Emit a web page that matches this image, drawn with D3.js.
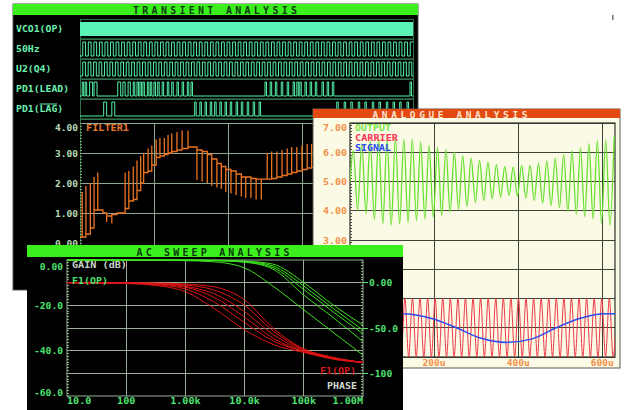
<!DOCTYPE html>
<html>
<head>
<meta charset="utf-8">
<script src="https://cdn.jsdelivr.net/npm/d3@7"></script>
<style>
  html, body { margin: 0; padding: 0; background: #ffffff; }
  svg { display: block; }
  text { font-family: "DejaVu Sans Mono", "Liberation Mono", monospace; font-weight: bold; }
</style>
</head>
<body>
<script>
// ---------------- Transient analysis data ----------------
const digitalRows = ["VCO1(OP)", "50Hz", "U2(Q4)", "PD1(LEAD)", "PD1(LAG)"];
const clock50HzPeriodMs = 0.075;
const clockQ4PeriodMs = 0.0735;
// phase-detector pulses, [start, end] in ms
const leadPulses = [
  [0.03, 0.05], [0.07, 0.09], [0.13, 0.17], [0.19, 0.23],
  [0.51, 0.55], [0.58, 0.61], [0.65, 0.68], [0.72, 0.74], [0.77, 0.79], [0.81, 0.83],
  [0.85, 0.87], [0.91, 0.93], [0.95, 0.97], [1.00, 1.02], [1.05, 1.07], [1.11, 1.13],
  [1.18, 1.20], [1.24, 1.26], [1.31, 1.33], [1.38, 1.40], [1.45, 1.47], [1.50, 1.52],
  [2.50, 2.52], [2.57, 2.59], [2.64, 2.66], [2.72, 2.74], [2.80, 2.82], [2.88, 2.90],
  [2.93, 2.95], [2.97, 2.99], [3.04, 3.06], [3.11, 3.13], [3.18, 3.20], [3.27, 3.29],
  [3.34, 3.36], [3.41, 3.43], [4.46, 4.48]
];
const lagPulses = [
  [0.32, 0.36], [0.43, 0.47],
  [1.55, 1.57], [1.62, 1.64], [1.69, 1.71], [1.76, 1.78], [1.82, 1.84], [1.89, 1.91],
  [1.96, 1.98], [2.03, 2.05], [2.11, 2.13], [2.18, 2.20], [2.26, 2.28], [2.34, 2.36], [2.42, 2.44],
  [3.47, 3.49], [3.57, 3.59], [3.66, 3.68], [3.76, 3.78], [3.85, 3.87], [3.95, 3.97],
  [4.04, 4.06], [4.14, 4.16], [4.23, 4.25], [4.32, 4.34], [4.42, 4.44]
];
// loop filter output: sample time (ms), settled level and the transient excursion (V)
const filterTime  = [0.03, 0.08, 0.14, 0.19, 0.24, 0.31, 0.36, 0.43, 0.50, 0.55, 0.61, 0.66, 0.72, 0.77, 0.82, 0.86, 0.92, 0.97, 1.03, 1.08, 1.14, 1.19, 1.24, 1.31, 1.38, 1.46, 1.53, 1.58, 1.65, 1.72, 1.78, 1.85, 1.91, 1.97, 2.04, 2.11, 2.18, 2.24, 2.31, 2.38, 2.45, 2.53, 2.59, 2.66, 2.73, 2.80, 2.86, 2.93, 3.00, 3.07, 3.13];
const filterLevel = [0.2, 0.3, 0.5, 1.1, 1.1, 1.0, 0.9, 0.95, 1.0, 1.0, 1.15, 1.4, 1.45, 1.75, 2.0, 2.35, 2.4, 2.6, 2.85, 2.9, 2.95, 3.0, 3.05, 3.1, 3.15, 3.2, 3.2, 3.1, 3.05, 2.95, 2.8, 2.65, 2.55, 2.45, 2.4, 2.3, 2.2, 2.2, 2.15, 2.13, 2.13, 2.13, 2.15, 2.2, 2.25, 2.3, 2.35, 2.4, 2.45, 2.5, 2.52];
const filterSpike = [1.7, 1.9, 2.0, 2.2, 2.35, 1.0, 0.7, 0.65, 1.0, 1.0, 2.35, 2.4, 2.55, 2.75, 2.9, 3.0, 3.15, 3.25, 3.45, 3.5, 3.5, 3.6, 3.65, 3.7, 3.75, 3.75, 3.2, 2.1, 2.05, 2.0, 1.9, 1.85, 1.8, 1.7, 1.65, 1.6, 1.55, 1.5, 1.5, 1.45, 1.45, 3.0, 3.05, 3.05, 3.1, 3.15, 3.2, 3.2, 3.25, 3.3, 3.3];
const transientVTicks = [0, 1, 2, 3, 4];
const transientTimeGrid = [1, 2, 3, 4];

// ---------------- Analogue analysis data ----------------
const analogueVTicks = [7, 6, 5, 4, 3, 2, 1, 0, -1];
const analogueTimeTicks = [200, 400, 600];
const analogueTimeLabels = ["200u", "400u", "600u"];
// AM output: successive crest and trough voltages
const outputCrests  = [6.06, 6.29, 6.40, 6.51, 6.46, 6.51, 6.46, 6.46, 6.35, 6.23, 6.17, 6.10, 6.00, 5.89, 5.80, 5.72, 5.66, 5.58, 5.52, 5.50, 5.55, 5.55, 5.62, 5.70, 5.80, 5.92, 6.05, 6.15, 6.29, 6.40, 6.42, 6.55];
const outputTroughs = [4.01, 3.90, 3.70, 3.56, 3.50, 3.55, 3.60, 3.66, 3.72, 3.78, 3.84, 3.95, 4.05, 4.15, 4.28, 4.35, 4.41, 4.47, 4.52, 4.50, 4.43, 4.35, 4.27, 4.18, 4.10, 3.98, 3.88, 3.80, 3.72, 3.58, 3.50];
const outputPeriodUs = 20;
const carrierPeriodUs = 18;
const carrierAmplitude = 1;
const signalTime  = [0, 60, 123, 196, 253, 308, 374, 433, 490, 552, 603, 630];
const signalValue = [0.0, 0.33, 0.48, 0.31, 0.0, -0.34, -0.50, -0.38, 0.0, 0.34, 0.48, 0.48];

// ---------------- AC sweep data ----------------
const acFreqs = [10, 100, 300, 1e3, 3e3, 1e4, 3e4, 1e5, 3e5, 1e6];
const gainCurves = [
  [0, 0, -0.1, -0.3, -0.8, -3.5, -11.5, -22.0, -31.5, -42.0],
  [0, 0, 0, -0.1, -0.3, -1.0, -4.0, -15.5, -25.0, -36.0],
  [0, 0, 0, -0.1, -0.2, -0.8, -3.3, -13.0, -22.5, -32.6],
  [0, 0, 0, 0, -0.2, -0.6, -2.6, -11.5, -21.0, -30.9],
  [0, 0, 0, 0, -0.1, -0.5, -1.8, -10.0, -19.5, -28.7]
];
const phaseCurves = [
  [0, -1.0, -3.0, -10.0, -28.0, -52.0, -68.0, -77.0, -84.0, -88.0],
  [0, -0.5, -2.0, -7.0, -21.0, -44.0, -64.0, -76.0, -84.0, -88.0],
  [0, -0.5, -1.5, -5.0, -16.0, -38.0, -61.0, -76.0, -83.0, -88.0],
  [0, -0.3, -1.0, -4.0, -12.0, -32.0, -57.0, -75.0, -83.0, -88.0],
  [0, -0.2, -0.7, -2.5, -8.0, -25.0, -53.0, -74.0, -83.0, -88.0],
  [0, -0.1, -0.4, -1.5, -4.5, -19.0, -50.0, -73.0, -82.0, -88.0]
];
const gainTicks = [0, -20, -40, -60];
const gainTickLabels = ["0.00", "-20.0", "-40.0", "-60.0"];
const phaseTicks = [0, -50, -100];
const phaseTickLabels = ["0.00", "-50.0", "-100"];
const freqTicks = [10, 100, 1e3, 1e4, 1e5, 1e6];
const freqTickLabels = ["10.0", "100", "1.00k", "10.0k", "100k", "1.00M"];

// ---------------- drawing ----------------
const svg = d3.select("body").append("svg").attr("width", 624).attr("height", 410);
const defs = svg.append("defs");

function label(g, x, y, s, fill, size, anchor, extra) {
  const t = g.append("text").attr("x", x).attr("y", y).text(s)
    .attr("fill", fill).attr("font-size", size).attr("text-anchor", anchor || "start");
  if (extra) extra(t);
  return t;
}
function hline(g, x1, x2, y, stroke, w) {
  g.append("line").attr("x1", x1).attr("x2", x2).attr("y1", y).attr("y2", y)
    .attr("stroke", stroke).attr("stroke-width", w || 1).attr("shape-rendering", "crispEdges");
}
function vline(g, x, y1, y2, stroke, w) {
  g.append("line").attr("x1", x).attr("x2", x).attr("y1", y1).attr("y2", y2)
    .attr("stroke", stroke).attr("stroke-width", w || 1).attr("shape-rendering", "crispEdges");
}
function clip(id, x, y, w, h) {
  defs.append("clipPath").attr("id", id).append("rect")
    .attr("x", x).attr("y", y).attr("width", w).attr("height", h);
  return "url(#" + id + ")";
}

// stray mark at the top right of the page
svg.append("rect").attr("x", 612).attr("y", 15).attr("width", 1.5).attr("height", 5).attr("fill", "#6a7080");

// ===== TRANSIENT ANALYSIS window =====
const tr = svg.append("g");
tr.append("rect").attr("x", 13).attr("y", 4).attr("width", 405).attr("height", 286).attr("fill", "#000")
  .attr("stroke", "#4a5a4a").attr("stroke-width", 1);
tr.append("rect").attr("x", 13).attr("y", 4).attr("width", 405).attr("height", 11).attr("fill", "#3cf01e");
label(tr, 215, 14, "TRANSIENT ANALYSIS", "#0d3a0d", 10, "middle",
  t => t.attr("textLength", 164).attr("lengthAdjust", "spacing").attr("font-weight", "normal"));

const tx = d3.scaleLinear().domain([0, 4.5]).range([80, 413]);
const rowBand = d3.scaleBand().domain(digitalRows).range([19, 119]);
const trColor = "#55f0a8";
const frameColor = "#2f7048";

// row frames
digitalRows.forEach(r => {
  hline(tr, 80, 413, rowBand(r), frameColor, 1);
  hline(tr, 80, 413, rowBand(r) + rowBand.bandwidth() - 1, "#1f4a30", 1);
  label(tr, 16, rowBand(r) + 13, r, "#6cf0b0", 8.6, "start",
    t => t.attr("textLength", r.length * 5.9).attr("lengthAdjust", "spacingAndGlyphs"));
});
hline(tr, 80, 413, 119, frameColor, 1);
vline(tr, 80, 19, 290, frameColor, 1);
vline(tr, 413, 19, 290, frameColor, 1);
// overline on LAG
tr.append("line").attr("x1", 16 + 4 * 5.9).attr("x2", 16 + 7 * 5.9)
  .attr("y1", rowBand("PD1(LAG)") + 5).attr("y2", rowBand("PD1(LAG)") + 5)
  .attr("stroke", "#6cf0b0").attr("stroke-width", 1);

const hi = r => rowBand(r) + 3;
const lo = r => rowBand(r) + 17;

// VCO output switches too fast to resolve: drawn as a solid band
tr.append("rect").attr("x", tx(0)).attr("y", hi("VCO1(OP)"))
  .attr("width", tx(4.5) - tx(0)).attr("height", lo("VCO1(OP)") - hi("VCO1(OP)")).attr("fill", "#5af2b6");

function clockLevels(period) {
  const pts = [[0, 0]];
  let level = 0;
  for (let e = period / 2; e < 4.5; e += period / 2) {
    pts.push([e, level]); level = 1 - level; pts.push([e, level]);
  }
  pts.push([4.5, level]);
  return pts;
}
function pulseLevels(pulses) {
  const pts = [[0, 0]];
  pulses.forEach(([s, e]) => { pts.push([s, 0], [s, 1], [e, 1], [e, 0]); });
  pts.push([4.5, 0]);
  return pts;
}
function drawDigital(row, pts) {
  const line = d3.line().x(d => tx(d[0])).y(d => d[1] ? hi(row) : lo(row));
  tr.append("path").attr("d", line(pts)).attr("fill", "none")
    .attr("stroke", trColor).attr("stroke-width", 1);
}
drawDigital("50Hz", clockLevels(clock50HzPeriodMs));
drawDigital("U2(Q4)", clockLevels(clockQ4PeriodMs));
drawDigital("PD1(LEAD)", pulseLevels(leadPulses));
drawDigital("PD1(LAG)", pulseLevels(lagPulses));

// analogue part of the transient plot
const ty = d3.scaleLinear().domain([0, 4]).range([243, 123]);
const trGrid = "#8fa88f";
transientVTicks.forEach(v => { if (v > 0) hline(tr, 80, 413, ty(v), trGrid, 1); });
transientTimeGrid.forEach(t => vline(tr, tx(t), ty(4), 290, trGrid, 1));
d3.range(0, 41).forEach(i => hline(tr, 80, 82, ty(i / 10), "#7a9a7a", 1));
transientVTicks.forEach(v => {
  label(tr, 78, Math.max(ty(v), 127) + 3.5, v.toFixed(2), "#b6dcb6", 8.6, "end",
    t => t.attr("textLength", 23).attr("lengthAdjust", "spacingAndGlyphs"));
});
label(tr, 86, 131, "FILTER1", "#e8782a", 8.6, "start",
  t => t.attr("textLength", 43).attr("lengthAdjust", "spacingAndGlyphs"));

const filterPts = [[0, filterLevel[0]]];
filterTime.forEach((t, i) => {
  const prev = i ? filterLevel[i - 1] : filterLevel[0];
  filterPts.push([t, prev], [t, filterSpike[i]], [t, filterLevel[i]]);
});
filterPts.push([3.2, filterLevel[filterLevel.length - 1]]);
tr.append("path")
  .attr("d", d3.line().x(d => tx(d[0])).y(d => ty(d[1]))(filterPts))
  .attr("fill", "none").attr("stroke", "#ec7420").attr("stroke-width", 1.3)
  .attr("clip-path", clip("trclip", 80, 119, 333, 171));

// ===== ANALOGUE ANALYSIS window =====
const an = svg.append("g");
an.append("rect").attr("x", 313).attr("y", 109).attr("width", 307).attr("height", 259)
  .attr("fill", "#fbfae4").attr("stroke", "#5a5a50").attr("stroke-width", 1);
an.append("rect").attr("x", 313).attr("y", 109).attr("width", 307).attr("height", 9).attr("fill", "#e24a12");
label(an, 450, 117.5, "ANALOGUE ANALYSIS", "#fbe2cc", 9.5, "middle",
  t => t.attr("textLength", 155).attr("lengthAdjust", "spacing").attr("font-weight", "normal"));

const ax = d3.scaleLinear().domain([0, 630]).range([350, 615]);
const ay = d3.scaleLinear().domain([-1, 7]).range([357, 123]);
const anGrid = "#3c4438";
analogueVTicks.forEach(v => hline(an, 350, 615, ay(v), anGrid, 1));
analogueTimeTicks.forEach(t => vline(an, ax(t), 123, 357, anGrid, 1));
an.append("rect").attr("x", 350).attr("y", 123).attr("width", 265).attr("height", 234)
  .attr("fill", "none").attr("stroke", "#2c302a").attr("stroke-width", 1.2);
d3.range(-10, 71).forEach(i => hline(an, 350, 352, ay(i / 10), "#4a4a40", 1));
analogueVTicks.forEach(v => {
  label(an, 347, Math.max(ay(v), 127) + 3.5, v.toFixed(2), "#f2904a", 8.6, "end",
    t => t.attr("textLength", 24).attr("lengthAdjust", "spacingAndGlyphs"));
});
analogueTimeTicks.forEach((t, i) => {
  label(an, ax(t), 365.5, analogueTimeLabels[i], "#f2904a", 8.6, "middle",
    tt => tt.attr("textLength", 23).attr("lengthAdjust", "spacingAndGlyphs"));
});

const anClip = clip("anclip", 350, 123, 265, 234);
const curveXY = d3.line().x(d => ax(d[0])).y(d => ay(d[1])).curve(d3.curveMonotoneX);

// carrier
const carrierPts = [[0, 0]];
for (let t = carrierPeriodUs / 4, k = 0; t <= 640; t += carrierPeriodUs / 2, k++) {
  carrierPts.push([t, k % 2 ? -carrierAmplitude : carrierAmplitude]);
}
an.append("path").attr("d", curveXY(carrierPts)).attr("fill", "none")
  .attr("stroke", "#f03848").attr("stroke-width", 1).attr("clip-path", anClip);

// modulating signal
an.append("path").attr("d", curveXY(signalTime.map((t, i) => [t, signalValue[i]])))
  .attr("fill", "none").attr("stroke", "#2c4cf0").attr("stroke-width", 1.5).attr("clip-path", anClip);

// AM output
const outputPts = [[0, 5.0]];
outputCrests.forEach((v, i) => {
  outputPts.push([8 + i * outputPeriodUs, v]);
  if (i < outputTroughs.length) outputPts.push([18 + i * outputPeriodUs, outputTroughs[i]]);
});
an.append("path").attr("d", curveXY(outputPts)).attr("fill", "none")
  .attr("stroke", "#66e030").attr("stroke-width", 1.3).attr("clip-path", anClip);

label(an, 355, 130.5, "OUTPUT", "#7ae848", 8.6, "start", t => t.attr("textLength", 36).attr("lengthAdjust", "spacingAndGlyphs"));
label(an, 355, 140.5, "CARRIER", "#ff3458", 8.6, "start", t => t.attr("textLength", 43).attr("lengthAdjust", "spacingAndGlyphs"));
label(an, 355, 150.5, "SIGNAL", "#2a48f0", 8.6, "start", t => t.attr("textLength", 36).attr("lengthAdjust", "spacingAndGlyphs"));

// ===== AC SWEEP ANALYSIS window =====
const ac = svg.append("g");
ac.append("rect").attr("x", 27).attr("y", 245).attr("width", 376).attr("height", 166).attr("fill", "#000");
ac.append("rect").attr("x", 27).attr("y", 245).attr("width", 376).attr("height", 12).attr("fill", "#3cf01e");
label(ac, 213, 255.5, "AC SWEEP ANALYSIS", "#0d3a0d", 10, "middle",
  t => t.attr("textLength", 153).attr("lengthAdjust", "spacing").attr("font-weight", "normal"));

const fx = d3.scaleLog().domain([10, 1e6]).range([67, 363]);
const gy = d3.scaleLinear().domain([-60, 0]).range([396, 260]);
const py = d3.scaleLinear().domain([-125, 25]).range([396, 260]);
const acGrid = "#9aae9a";
d3.range(-50, 0, 10).forEach(v => hline(ac, 67, 363, gy(v), acGrid, 1));
[100, 1e3, 1e4, 1e5].forEach(f => vline(ac, fx(f), 260, 396, acGrid, 1));
ac.append("rect").attr("x", 67).attr("y", 260).attr("width", 296).attr("height", 136)
  .attr("fill", "none").attr("stroke", acGrid).attr("stroke-width", 1);
d3.range(0, 49).forEach(i => {
  hline(ac, 67, 69, gy(-i * 1.25), "#8aa88a", 1);
  hline(ac, 361, 363, gy(-i * 1.25), "#8aa88a", 1);
});

const acLineG = d3.line().x((d, i) => fx(acFreqs[i])).y(d => gy(d)).curve(d3.curveMonotoneX);
const acLineP = d3.line().x((d, i) => fx(acFreqs[i])).y(d => py(d)).curve(d3.curveMonotoneX);
const acClip = clip("acclip", 67, 259, 296, 137);
phaseCurves.forEach(c => ac.append("path").attr("d", acLineP(c)).attr("fill", "none")
  .attr("stroke", "#e01414").attr("stroke-width", 1).attr("clip-path", acClip));
gainCurves.forEach(c => ac.append("path").attr("d", acLineG(c)).attr("fill", "none")
  .attr("stroke", "#3ee01e").attr("stroke-width", 1).attr("clip-path", acClip));

const acLabel = "#4ee070";
gainTicks.forEach((v, i) => {
  const yy = Math.min(Math.max(gy(v), 266), 392);
  label(ac, 63, yy + 3.5, gainTickLabels[i], acLabel, 8.6, "end",
    t => t.attr("textLength", gainTickLabels[i].length * 5.8).attr("lengthAdjust", "spacingAndGlyphs"));
});
phaseTicks.forEach((v, i) => {
  hline(ac, 363, 368, py(v), acLabel, 1);
  label(ac, 369, py(v) + 3.5, phaseTickLabels[i], acLabel, 8.6, "start",
    t => t.attr("textLength", phaseTickLabels[i].length * 5.8).attr("lengthAdjust", "spacingAndGlyphs"));
});
freqTicks.forEach((f, i) => {
  const anchor = i === 0 ? "start" : (i === freqTicks.length - 1 ? "end" : "middle");
  label(ac, fx(f), 404, freqTickLabels[i], acLabel, 8.6, anchor,
    t => t.attr("textLength", freqTickLabels[i].length * 6.1).attr("lengthAdjust", "spacingAndGlyphs"));
});
label(ac, 72, 268, "GAIN (dB)", "#c8d4c8", 8.6, "start", t => t.attr("textLength", 55).attr("lengthAdjust", "spacingAndGlyphs"));
label(ac, 72, 283.5, "F1(OP)", "#4ee070", 8.6, "start", t => t.attr("textLength", 36).attr("lengthAdjust", "spacingAndGlyphs"));
label(ac, 356, 373.5, "F1(OP)", "#d81818", 8.6, "end", t => t.attr("textLength", 36).attr("lengthAdjust", "spacingAndGlyphs"));
label(ac, 357, 389, "PHASE", "#d0dad0", 8.6, "end", t => t.attr("textLength", 30).attr("lengthAdjust", "spacingAndGlyphs"));
</script>
</body>
</html>
